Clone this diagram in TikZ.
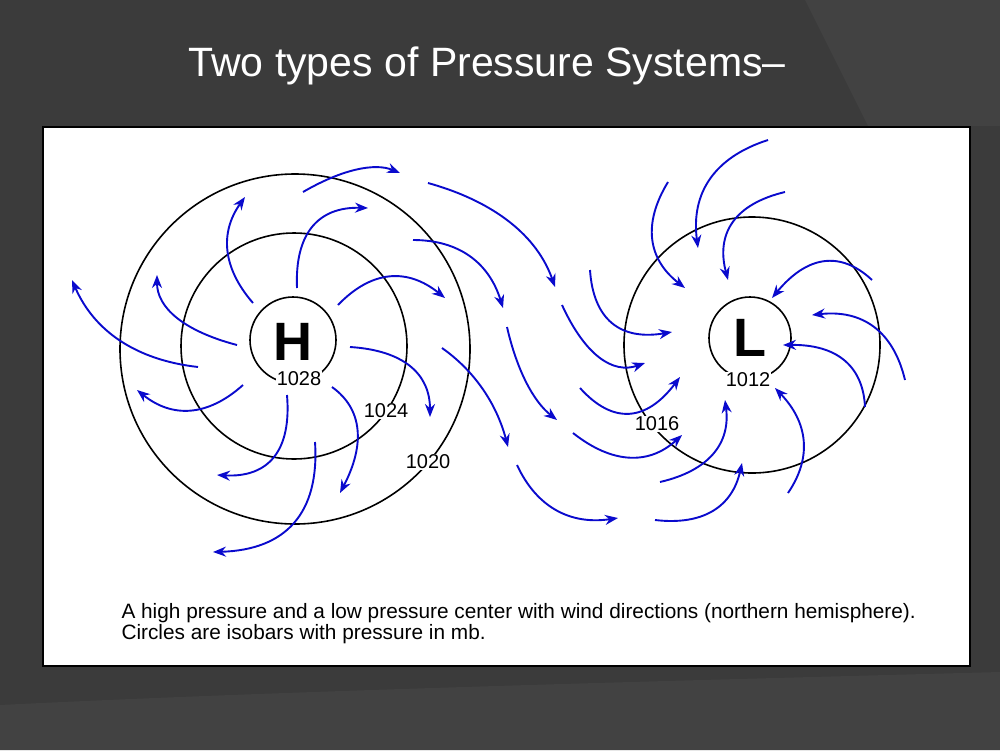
\documentclass[tikz,border=0pt]{standalone}
\usepackage{fontspec}
\setmainfont{Liberation Sans}
\usetikzlibrary{calc,arrows.meta}
\definecolor{bg}{HTML}{3B3B3B}
\definecolor{bgl}{HTML}{424242}
\definecolor{windc}{RGB}{10,10,205}
\tikzset{
  wind/.style={draw=windc,line width=1.9pt,-{Stealth[length=13pt,width=10pt]}},
  iso/.style={draw=black,line width=1.6pt},
  lab/.style={fill=white,inner sep=1pt,font=\fontsize{20}{20}\selectfont}
}
\newcommand\wind[3]{\draw[wind] (#1) .. controls ($4/3*(#2)-1/3*(#3)$) and ($4/3*(#2)-1/3*(#1)$) .. (#3);}
\begin{document}
\begin{tikzpicture}[x=1pt,y=-1pt]
\fill[bg] (0,0) rectangle (1000,750);
\useasboundingbox (0,0) rectangle (1000,750);
\fill[bgl] (805,0) -- (868,126) -- (1000,126) -- (1000,0) -- cycle;
\fill[bgl] (0,705) .. controls (300,690) and (700,680) .. (1000,672) -- (1000,750) -- (0,750) -- cycle;
\node[text=white,font=\fontsize{41}{44}\selectfont] (title) at (487,66) {Two types of Pressure Systems--};
\draw[fill=white,draw=black,line width=2pt] (43,127) rectangle (970,666);
% isobars
\draw[iso] (293,340) circle (43);
\draw[iso] (294,346) circle (113);
\draw[iso] (295,349) circle (175);
\draw[iso] (750,338) circle (41);
\draw[iso] (752,345) circle (128);
\node[font=\fontsize{54}{54}\selectfont\bfseries] (H) at (293,342) {H};
\node[font=\fontsize{54}{54}\selectfont\bfseries] (L) at (750,338) {L};
\node[lab] (p1028) at (299,379) {1028};
\node[lab] (p1024) at (386,411) {1024};
\node[lab] (p1020) at (428,462) {1020};
\node[lab] (p1016) at (657,424) {1016};
\node[lab] (p1012) at (748,380) {1012};
% high winds
\wind{303,192}{357,170}{400,173}
\wind{253,303}{228,250}{245,197}
\wind{297,288}{313,227}{368,208}
\wind{237,345}{177,317}{157,275}
\wind{198,367}{120,340}{72,280}
\wind{338,305}{390,277}{445,298}
\wind{350,347}{410,367}{430,417}
\wind{243,385}{190,410}{137,390}
\wind{287,395}{273,457}{217,475}
\wind{332,387}{357,430}{340,493}
\wind{315,442}{293,523}{213,552}
\wind{442,348}{483,390}{508,447}
\wind{428,183}{510,223}{555,287}
% middle
\wind{413,240}{470,257}{503,308}
\wind{507,327}{527,383}{557,420}
\wind{562,305}{600,357}{645,363}
\wind{590,270}{613,323}{672,332}
\wind{517,465}{557,510}{618,518}
\wind{573,433}{630,457}{682,435}
\wind{580,388}{630,413}{680,377}
% low winds
\wind{660,482}{713,453}{725,400}
\wind{655,520}{713,510}{742,463}
\wind{788,493}{803,440}{775,388}
\wind{668,182}{653,240}{685,288}
\wind{768,140}{710,180}{698,248}
\wind{785,192}{733,223}{728,280}
\wind{872,280}{823,262}{772,298}
\wind{905,380}{873,327}{812,315}
\wind{865,407}{843,360}{783,345}
\node[anchor=west,align=left,font=\fontsize{20.8}{21}\selectfont] (cap) at (118,624) {A high pressure and a low pressure center with wind directions (northern hemisphere).\\Circles are isobars with pressure in mb.};
\end{tikzpicture}
\end{document}
